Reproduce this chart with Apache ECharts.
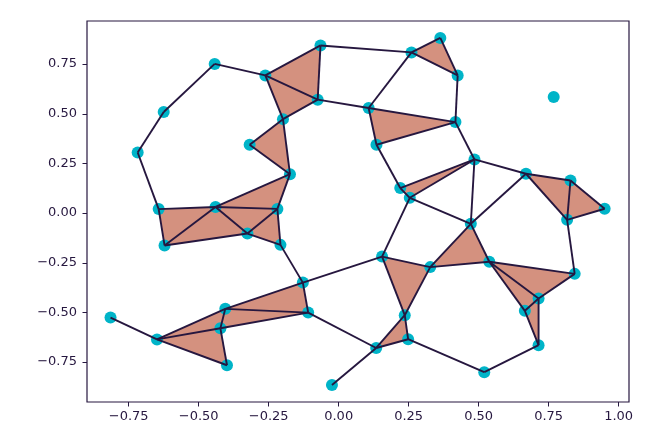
<!DOCTYPE html>
<html><head><meta charset="utf-8">
<script src="https://cdn.jsdelivr.net/npm/echarts@6/dist/echarts.min.js"></script>
<style>html,body{margin:0;padding:0;background:#fff}#c{width:665px;height:447px}</style>
</head><body><div id="c"></div>
<script>
// node coordinates (index 0-based in arrays; ids 1..49)
const nodeX = [-0.815,-0.649,-0.4225,-0.399,-0.405,-0.128,-0.109,-0.208,-0.326,-0.219,
  -0.440,-0.643,-0.622,-0.174,-0.318,-0.199,-0.718,-0.625,-0.443,-0.262,
  -0.075,-0.065,0.260,0.363,0.425,0.417,0.107,0.135,0.220,0.254,
  0.485,0.768,0.669,0.828,0.950,0.816,0.472,0.327,0.538,0.843,
  0.714,0.665,0.714,0.520,0.248,0.236,0.155,0.134,-0.024];
const nodeY = [-0.526,-0.636,-0.580,-0.766,-0.482,-0.350,-0.501,-0.160,-0.103,0.021,
  0.031,0.020,-0.163,0.196,0.344,0.473,0.305,0.509,0.751,0.693,
  0.571,0.844,0.809,0.882,0.693,0.458,0.529,0.344,0.126,0.077,
  0.270,0.584,0.198,0.164,0.022,-0.034,-0.054,-0.272,-0.245,-0.306,
  -0.430,-0.492,-0.665,-0.801,-0.635,-0.514,-0.219,-0.679,-0.865];
// edges (1-based node ids)
const edges = [[1,2],[2,3],[2,4],[2,5],[3,4],[3,5],[3,7],[5,6],[5,7],[6,7],[6,8],[6,47],[7,48],
  [8,9],[8,10],[9,10],[9,11],[9,13],[10,11],[10,14],[11,12],[11,13],[11,14],[12,13],[12,17],
  [14,15],[14,16],[15,16],[16,20],[16,21],[17,18],[18,19],[19,20],[20,21],[20,22],[21,22],
  [21,27],[22,23],[23,24],[23,25],[24,25],[23,27],[25,26],[26,27],[26,28],[27,28],[26,31],
  [28,29],[29,30],[29,31],[30,31],[30,37],[30,47],[31,33],[31,37],[33,34],[33,36],[34,35],
  [34,36],[35,36],[33,37],[36,40],[37,38],[37,39],[38,39],[38,47],[38,46],[46,47],[39,40],
  [39,41],[39,42],[40,41],[41,42],[41,43],[42,43],[43,44],[44,45],[45,46],[45,48],[46,48],[48,49]];
// filled triangles (1-based node ids)
const triangles = [[2,3,4],[2,3,5],[5,6,7],[3,5,7],[12,11,13],[13,11,9],[11,9,10],[11,10,14],
  [9,10,8],[14,15,16],[20,22,21],[20,21,16],[23,24,25],[27,26,28],[29,30,31],[33,34,36],
  [34,35,36],[47,38,46],[38,37,39],[39,40,41],[39,41,42],[42,41,43],[46,45,48]];
const xTicks = [-0.75,-0.5,-0.25,0,0.25,0.5,0.75,1.0];
const yTicks = [-0.75,-0.5,-0.25,0,0.25,0.5,0.75];

const INK = '#26173f';
const fmt = v => (v < 0 ? '\u2212' + Math.abs(v).toFixed(2) : v.toFixed(2));
const nodeData = nodeX.map((x,i)=>[x,nodeY[i]]);
const chart = echarts.init(document.getElementById('c'), null, {renderer:'canvas'});
chart.setOption({
  animation:false,
  grid:{left:87,right:36,top:21,bottom:45,show:true,borderColor:INK,borderWidth:1.2,backgroundColor:'#fff'},
  xAxis:{type:'value',min:-0.899,max:1.037,
    splitLine:{show:false},
    axisLine:{show:false,onZero:false},
    axisTick:{show:true,inside:false,length:4.5,lineStyle:{color:INK,width:1},customValues:xTicks},
    axisLabel:{customValues:xTicks,formatter:fmt,color:INK,fontFamily:'DejaVu Sans',fontSize:13,margin:8}},
  yAxis:{type:'value',min:-0.951,max:0.967,
    splitLine:{show:false},
    axisLine:{show:false,onZero:false},
    axisTick:{show:true,inside:false,length:4.5,lineStyle:{color:INK,width:1},customValues:yTicks},
    axisLabel:{customValues:yTicks,formatter:fmt,color:INK,fontFamily:'DejaVu Sans',fontSize:13,margin:10}},
  series:[
    {type:'custom',z:1,data:triangles.map((t,i)=>[i]),
      renderItem:(params,api)=>{
        const t = triangles[params.dataIndex];
        const pts = t.map(k=>api.coord([nodeX[k-1],nodeY[k-1]]));
        return {type:'polygon',shape:{points:pts},style:{fill:'#d4917f',stroke:null}};
      }},
    {type:'scatter',z:2,data:nodeData,symbolSize:12,itemStyle:{color:'#00b4c8',opacity:1}},
    {type:'custom',z:3,data:edges.map((e,i)=>[i]),
      renderItem:(params,api)=>{
        const e = edges[params.dataIndex];
        const a = api.coord([nodeX[e[0]-1],nodeY[e[0]-1]]);
        const b = api.coord([nodeX[e[1]-1],nodeY[e[1]-1]]);
        return {type:'line',shape:{x1:a[0],y1:a[1],x2:b[0],y2:b[1]},style:{stroke:INK,lineWidth:1.9}};
      }}
  ]
});
</script></body></html>
